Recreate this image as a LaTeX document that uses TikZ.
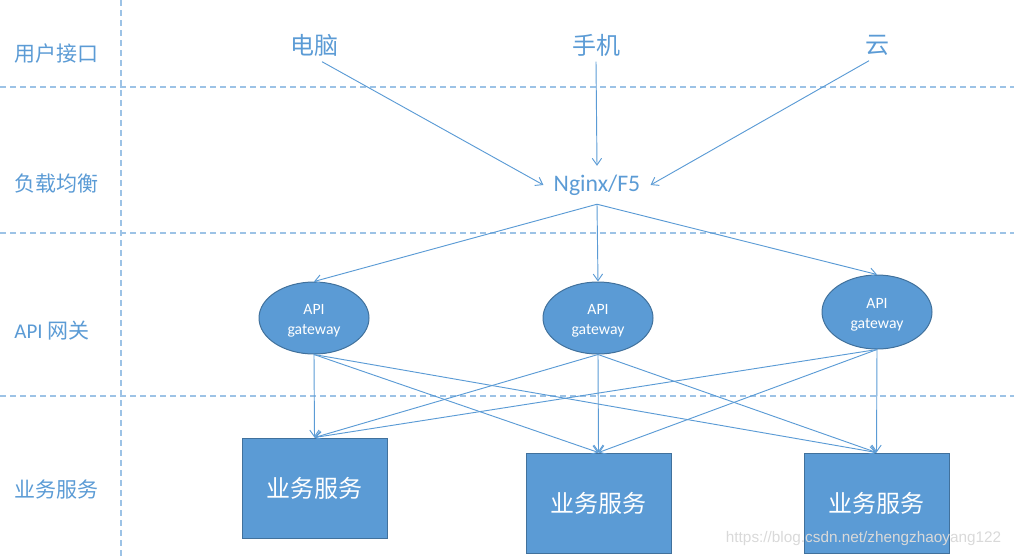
\documentclass[tikz,border=0pt]{standalone}
\usepackage{fontspec}
\setmainfont{Carlito}
\newfontfamily\cjk{Noto Sans CJK SC}
\newfontfamily\wmfont{Liberation Sans}
\usetikzlibrary{shapes.geometric,arrows.meta}
\definecolor{lineblue}{HTML}{5B9BD5}
\definecolor{dashblue}{HTML}{9DC3E6}
\definecolor{boxfill}{HTML}{5B9BD5}
\definecolor{boxedge}{HTML}{41719C}
\definecolor{txtblue}{HTML}{5B9BD5}
\begin{document}
\begin{tikzpicture}[x=0.75pt,y=-0.75pt,
  sep/.style={draw=dashblue,line width=1.5pt,dash pattern=on 4.5pt off 3pt},
  lane/.style={text=txtblue,font=\fontsize{15.75}{18}\selectfont\cjk},
  src/.style={text=txtblue,font=\fontsize{18}{21}\selectfont\cjk,inner xsep=1pt,inner ysep=4pt},
  lb/.style={text=txtblue,font=\fontsize{17.8}{21}\selectfont,inner xsep=7.5pt,inner ysep=6.5pt},
  gw/.style={ellipse,draw=boxedge,line width=0.75pt,fill=boxfill,text=white,
    minimum width=82.5pt,minimum height=54pt,inner sep=0pt,align=center,
    font=\fontsize{11.8}{15}\selectfont},
  svc/.style={rectangle,draw=boxedge,line width=0.75pt,fill=boxfill,text=white,
    minimum width=108.75pt,minimum height=75pt,inner sep=0pt,
    font=\fontsize{18}{21}\selectfont\cjk},
  conn/.style={draw=lineblue,line width=0.7pt,-{Straight Barb[length=5pt,width=7pt]}}
]
\useasboundingbox (0,0) rectangle (1014,558);
% lane separators
\draw[sep] (121,0) -- (121,558);
\draw[sep] (0,87) -- (1014,87);
\draw[sep] (0,233) -- (1014,233);
\draw[sep] (0,396) -- (1014,396);
% lane labels
\node[lane] (l1) at (56,54) {用户接口};
\node[lane] (l2) at (56,184) {负载均衡};
\node[lane] (l3) at (52,331) {\fontspec{Carlito}API {\cjk 网关}};
\node[lane] (l4) at (56,490) {业务服务};
% sources
\node[src] (pc) at (314,45) {电脑};
\node[src] (phone) at (596,45) {手机};
\node[src] (cloud) at (877,45) {云};
% load balancer
\node[lb] (ng) at (597,185) {Nginx/F5};
% gateways
\node[gw] (g1) at (314,318) {\rule{0pt}{12.1pt}API\\gateway};
\node[gw] (g2) at (598,318) {\rule{0pt}{12.1pt}API\\gateway};
\node[gw,minimum height=55.5pt] (g3) at (877,312) {\rule{0pt}{12.1pt}API\\gateway};
% services
\node[svc] (s1) at (314.5,488) {业务服务};
\node[svc] (s2) at (598.5,503) {业务服务};
\node[svc] (s3) at (876.5,503) {业务服务};
% connectors
\draw[conn] ([xshift=6pt]pc.south) -- (ng.west);
\draw[conn] (phone.south) -- (ng.north);
\draw[conn] ([xshift=-6pt]cloud.south) -- (ng.east);
\foreach \g in {g1,g2,g3}{\draw[conn] (ng.south) -- (\g.north);}
\foreach \g in {g1,g2,g3}{
  \foreach \s in {s1,s2,s3}{\draw[conn] (\g.south) -- (\s.north);}
}
% watermark
\node[text=gray!30,font=\fontsize{11.5}{13}\selectfont\wmfont,anchor=east] (wm) at (1006,539) {https://blog.csdn.net/zhengzhaoyang122};
\end{tikzpicture}
\end{document}
